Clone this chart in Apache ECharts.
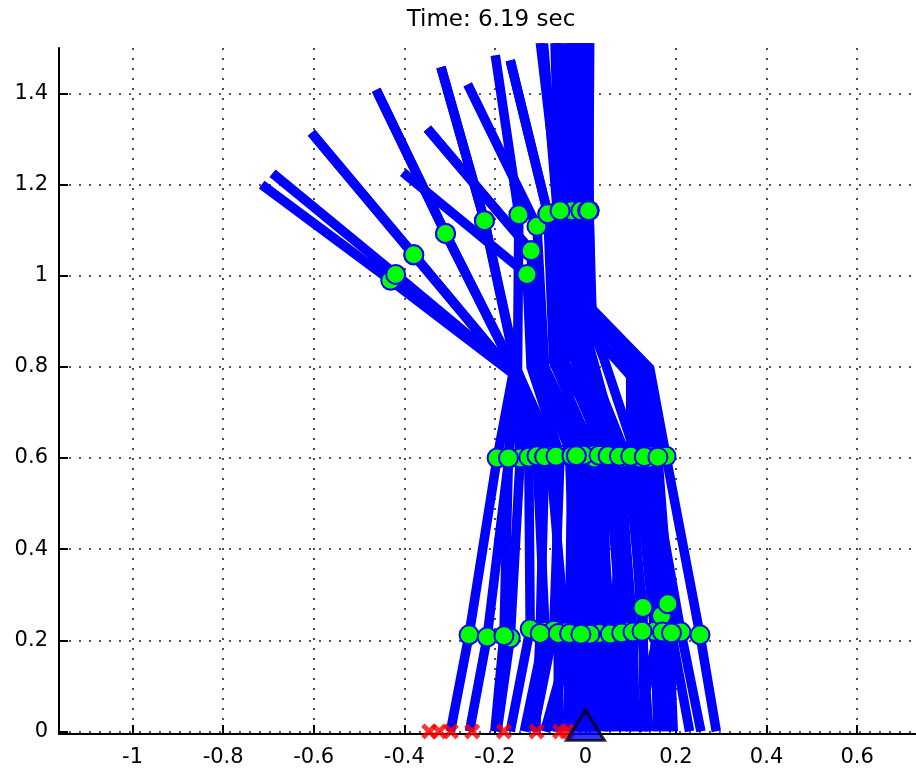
<!DOCTYPE html>
<html><head><meta charset="utf-8">
<script src="https://cdn.jsdelivr.net/npm/echarts@6/dist/echarts.min.js"></script>
<style>html,body{margin:0;padding:0;background:#fff}#c{width:916px;height:774px}</style>
</head><body><div id="c"></div>
<script>
const titleText = 'Time: 6.19 sec';
const xTicks = [-1, -0.8, -0.6, -0.4, -0.2, 0, 0.2, 0.4, 0.6];
const yTicks = [0, 0.2, 0.4, 0.6, 0.8, 1, 1.2, 1.4];

// one entry per drawn frame of the linkage
const footX  = [-0.298,-0.256,-0.195,-0.166,-0.135,-0.070,-0.115,-0.090,-0.019, 0.000, 0.040,-0.035, 0.098, 0.130, 0.160, 0.255, 0.289, 0.115, 0.020, 0.070, 0.194, -0.110,-0.060,-0.040, 0.010, 0.050, 0.085, 0.110, 0.140, 0.180, 0.230,-0.200,-0.005];
const kneeX  = [-0.257,-0.217,-0.166,-0.122,-0.089,-0.045,-0.070,-0.030, 0.000, 0.020, 0.043,-0.020, 0.094, 0.127, 0.153, 0.211, 0.253, 0.168, 0.030, 0.065, 0.182, -0.100,-0.060,-0.035, 0.010, 0.055, 0.080, 0.105, 0.125, 0.170, 0.190,-0.180,-0.010];
const kneeY  = [ 0.212, 0.207, 0.205, 0.225, 0.220, 0.218, 0.222, 0.215, 0.212, 0.213, 0.213, 0.215, 0.220, 0.272, 0.220, 0.218, 0.212, 0.254, 0.215, 0.215, 0.280,  0.215, 0.215, 0.215, 0.213, 0.214, 0.216, 0.218, 0.220, 0.218, 0.216, 0.210, 0.213];
const hipX   = [-0.195,-0.169,-0.144,-0.125,-0.107,-0.078,-0.056,-0.015, 0.003, 0.020, 0.043,-0.035, 0.061, 0.091, 0.113, 0.142, 0.178, 0.120, 0.020, 0.080, 0.142, -0.090,-0.065,-0.030,-0.005, 0.030, 0.050, 0.075, 0.100, 0.130, 0.160,-0.170,-0.020];
const hipY   = [ 0.600, 0.600, 0.600, 0.602, 0.605, 0.605, 0.606, 0.605, 0.606, 0.607, 0.607, 0.606, 0.604, 0.604, 0.602, 0.605, 0.604, 0.600, 0.600, 0.600, 0.600,  0.603, 0.604, 0.605, 0.606, 0.606, 0.605, 0.604, 0.604, 0.603, 0.602, 0.600, 0.605];
const chestX = [-0.160,-0.158,-0.160,-0.155,-0.152,-0.150,-0.120,-0.105,-0.090,-0.070,-0.050,-0.045,-0.020, 0.000, 0.040, 0.125, 0.142, 0.120, 0.000, 0.010, 0.130, -0.155,-0.150,-0.110,-0.060,-0.030,-0.010, 0.010, 0.100, 0.130, 0.140,-0.160,-0.045];
const chestY = [ 0.785, 0.787, 0.785, 0.790, 0.790, 0.792, 0.800, 0.800, 0.800, 0.810, 0.820, 0.800, 0.820, 0.830, 0.820, 0.790, 0.797, 0.785, 0.800, 0.800, 0.790,  0.788, 0.790, 0.800, 0.820, 0.840, 0.840, 0.840, 0.780, 0.790, 0.795, 0.785, 0.820];
const bendX  = [null,null,null,null,null,null,null,null,null,null,null,null,null,null, 0.010, 0.015, 0.012, 0.015,null,null, 0.015, null,null,null,null,null,null,null, 0.010, 0.013, 0.012,null,null];
const bendY  = [null,null,null,null,null,null,null,null,null,null,null,null,null,null, 0.900, 0.900, 0.930, 0.860,null,null, 0.910, null,null,null,null,null,null,null, 0.880, 0.900, 0.910,null,null];
const waistX = [-0.430,-0.419,-0.379,-0.309,-0.223,-0.147,-0.129,-0.120,-0.107,-0.083,-0.062,-0.056,-0.027,-0.004, 0.005, 0.008, 0.008,-0.010,-0.015,-0.040, 0.000, -0.309,-0.223,-0.120,-0.083,-0.050,-0.030,-0.010, 0.005, 0.006, 0.007,-0.379,-0.056];
const waistY = [ 0.990, 1.003, 1.046, 1.093, 1.121, 1.134, 1.003, 1.055, 1.109, 1.136, 1.140, 1.143, 1.143, 1.143, 1.143, 1.143, 1.143, 1.143, 1.143, 1.143, 1.143,  1.093, 1.121, 1.055, 1.136, 1.143, 1.143, 1.143, 1.143, 1.143, 1.143, 1.046, 1.143];
const headX  = [-0.715,-0.691,-0.605,-0.462,-0.319,-0.199,-0.403,-0.349,-0.260,-0.166,-0.100,-0.110,-0.040,-0.015, 0.000, 0.004, 0.005,-0.020,-0.030,-0.060,-0.005, -0.462,-0.319,-0.349,-0.166,-0.065,-0.035,-0.010, 0.005, 0.008, 0.010,-0.605,-0.070];
const headY  = [ 1.200, 1.225, 1.314, 1.408, 1.458, 1.484, 1.227, 1.323, 1.420, 1.473, 1.600, 1.600, 1.600, 1.600, 1.600, 1.600, 1.600, 1.600, 1.600, 1.600, 1.600,  1.408, 1.458, 1.323, 1.473, 1.600, 1.600, 1.600, 1.600, 1.600, 1.600, 1.314, 1.600];

const crossX = [-0.345, -0.323, -0.297, -0.250, -0.180, -0.108, -0.056, -0.041];
const pivot = [0, 0];

const series = [];
for (let i = 0; i < footX.length; i++) {
  const pts = [];
  pts.push({ value: [footX[i], 0], symbol: 'none' });
  pts.push({ value: [kneeX[i], kneeY[i]] });
  pts.push({ value: [hipX[i], hipY[i]] });
  pts.push({ value: [chestX[i], chestY[i]], symbol: 'none' });
  if (bendX[i] !== null) pts.push({ value: [bendX[i], bendY[i]], symbol: 'none' });
  pts.push({ value: [waistX[i], waistY[i]] });
  pts.push({ value: [headX[i], headY[i]], symbol: 'none' });
  series.push({
    type: 'line', data: pts, symbol: 'circle', symbolSize: 19, showSymbol: true,
    lineStyle: { color: '#0000ff', width: 9.5, cap: 'butt', join: 'miter' },
    itemStyle: { color: '#00ff00', borderColor: '#0000ff', borderWidth: 2 },
    emphasis: { disabled: true }, silent: true, animation: false, clip: true, z: 2
  });
}
series.push({
  type: 'scatter', data: crossX.map(x => [x, 0]), clip: false, silent: true, z: 5,
  symbol: 'path://M0,3 L3,0 L7,4 L11,0 L14,3 L10,7 L14,11 L11,14 L7,10 L3,14 L0,11 L4,7 Z',
  symbolSize: 16, itemStyle: { color: '#ff0000' }
});
series.push({
  type: 'scatter', data: [pivot], clip: false, silent: true, z: 6,
  symbol: 'triangle', symbolSize: [38, 30], symbolOffset: [0, -6],
  itemStyle: { color: '#0000ff', borderColor: '#000000', borderWidth: 3 }
});

const fmt = v => String(Math.round(v * 10) / 10);
const dotted = { show: true, lineStyle: { color: '#222', width: 1.6, type: [2, 8] } };
const labelFont = { fontFamily: 'DejaVu Sans', fontSize: 21, color: '#000' };

const chart = echarts.init(document.getElementById('c'), null, { renderer: 'canvas' });
chart.setOption({
  animation: false,
  backgroundColor: '#ffffff',
  graphic: [{
    type: 'text', x: 491, y: 20,
    style: { text: titleText, fill: '#000', font: '23px "DejaVu Sans"', textAlign: 'center', textVerticalAlign: 'middle' }
  }],
  grid: { left: 59, top: 48, width: 862, height: 686, containLabel: false },
  xAxis: {
    type: 'value', min: -1.1625, max: 0.73,
    axisLine: { show: true, onZero: false, lineStyle: { color: '#000', width: 2 } },
    axisTick: { show: true, inside: true, length: 9, customValues: xTicks, lineStyle: { color: '#000', width: 2 } },
    axisLabel: Object.assign({ customValues: xTicks, formatter: fmt, margin: 13 }, labelFont),
    splitLine: dotted
  },
  yAxis: {
    type: 'value', min: -0.0057, max: 1.5,
    axisLine: { show: true, onZero: false, lineStyle: { color: '#000', width: 2 } },
    axisTick: { show: true, inside: true, length: 9, customValues: yTicks, lineStyle: { color: '#000', width: 2 } },
    axisLabel: Object.assign({ customValues: yTicks, formatter: fmt, margin: 11 }, labelFont),
    splitLine: dotted
  },
  series: series
});
</script></body></html>
